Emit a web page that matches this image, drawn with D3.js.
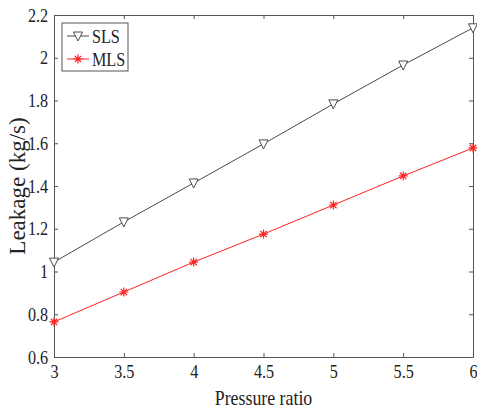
<!DOCTYPE html>
<html><head><meta charset="utf-8">
<script src="https://cdn.jsdelivr.net/npm/d3@7"></script>
<style>body{margin:0;background:#fff}svg{display:block}svg text{font-family:'Liberation Serif','Times New Roman',serif}</style>
</head><body>
<script>
const pressure = [3, 3.5, 4, 4.5, 5, 5.5, 6];
const sls = [1.044, 1.232, 1.414, 1.597, 1.784, 1.966, 2.140];
const mls = [0.764, 0.904, 1.044, 1.175, 1.311, 1.447, 1.578];
const xTicks = [3, 3.5, 4, 4.5, 5, 5.5, 6];
const yTicks = [0.6, 0.8, 1, 1.2, 1.4, 1.6, 1.8, 2, 2.2];

const W = 477, H = 411;
const m = {l: 54, r: 4, t: 15, b: 54};
const SX = 0.85; // horizontal squeeze of glyphs as in the reference
const serif = "'Liberation Serif','Times New Roman',serif";
const svg = d3.select("body").append("svg").attr("width", W).attr("height", H);
const x = d3.scaleLinear().domain([3, 6]).range([m.l, W - m.r]);
const y = d3.scaleLinear().domain([0.6, 2.2]).range([H - m.b, m.t]);
const ax = "#555";
const fmt = d => String(d);

function styleAxis(g){ g.attr("font-family", serif).attr("font-size", 19);
  g.select(".domain").attr("stroke", ax); g.selectAll(".tick line").attr("stroke", ax);
  g.selectAll("text").attr("fill","#222").style("font-family", serif).style("font-size","19px")
   .attr("transform", `scale(${SX},1)`); }

svg.append("g").attr("transform", `translate(0,${y(0.6)})`)
  .call(d3.axisBottom(x).tickValues(xTicks).tickFormat(fmt).tickSizeInner(-4).tickSizeOuter(0).tickPadding(8))
  .call(styleAxis);
svg.append("g").attr("transform", `translate(0,${y(2.2)})`)
  .call(d3.axisTop(x).tickValues(xTicks).tickFormat("").tickSizeInner(-4).tickSizeOuter(0))
  .call(styleAxis);
svg.append("g").attr("transform", `translate(${x(3)},0)`)
  .call(d3.axisLeft(y).tickValues(yTicks).tickFormat(fmt).tickSizeInner(-4).tickSizeOuter(0).tickPadding(7))
  .call(styleAxis);
svg.append("g").attr("transform", `translate(${x(6)},0)`)
  .call(d3.axisRight(y).tickValues(yTicks).tickFormat("").tickSizeInner(-4).tickSizeOuter(0))
  .call(styleAxis);

svg.append("text").attr("transform", `translate(${(x(3)+x(6))/2},405) scale(${SX},1)`).attr("text-anchor","middle")
  .style("font-size","21px").attr("fill","#222").text("Pressure ratio");
svg.append("text").attr("transform", `translate(25,${(y(0.6)+y(2.2))/2}) rotate(-90)`).attr("text-anchor","middle")
  .style("font-family", serif).style("font-size","23px").attr("fill","#222").text("Leakage (kg/s)");

const line = d3.line().x((d,i)=>x(pressure[i])).y(d=>y(d));
const slsCol = "#4a4a4a", mlsCol = "#ff2020";
svg.append("path").datum(sls).attr("d", line).attr("fill","none").attr("stroke", slsCol).attr("stroke-width",1);
svg.append("path").datum(mls).attr("d", line).attr("fill","none").attr("stroke", mlsCol).attr("stroke-width",1);

function tri(g, cx, cy){
  g.append("path").attr("d", `M${cx-4.5},${cy-4}L${cx+4.5},${cy-4}L${cx},${cy+5}Z`)
   .attr("fill","#fff").attr("stroke", slsCol).attr("stroke-width",1);
}
function star(g, cx, cy){
  const r = 4.5, p = [];
  for (let k=0;k<4;k++){ const a = k*Math.PI/4; p.push(`M${cx-r*Math.cos(a)},${cy-r*Math.sin(a)}L${cx+r*Math.cos(a)},${cy+r*Math.sin(a)}`); }
  g.append("path").attr("d", p.join("")).attr("stroke", mlsCol).attr("stroke-width",1.2).attr("fill","none");
}
const mk = svg.append("g");
sls.forEach((v,i)=>tri(mk, x(pressure[i]), y(v)));
mls.forEach((v,i)=>star(mk, x(pressure[i]), y(v)));

// legend
const lg = svg.append("g");
lg.append("rect").attr("x",62).attr("y",23).attr("width",66).attr("height",48).attr("fill","#fff").attr("stroke",ax);
lg.append("line").attr("x1",67).attr("x2",89).attr("y1",36).attr("y2",36).attr("stroke",slsCol);
tri(lg, 78, 36);
lg.append("text").attr("transform", `translate(92,43) scale(${SX},1)`).style("font-size","19px").attr("fill","#222").text("SLS");
lg.append("line").attr("x1",67).attr("x2",89).attr("y1",59).attr("y2",59).attr("stroke",mlsCol);
star(lg, 78, 59);
lg.append("text").attr("transform", `translate(92,66) scale(${SX},1)`).style("font-size","19px").attr("fill","#222").text("MLS");
</script>
</body></html>
